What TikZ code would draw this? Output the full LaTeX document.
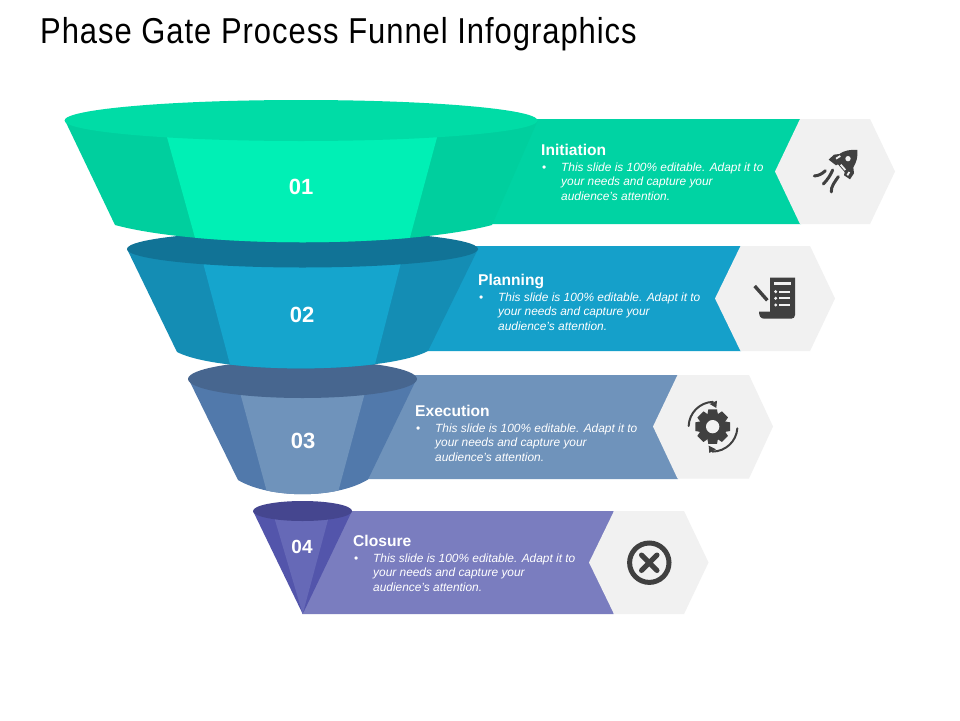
\documentclass[tikz,border=0pt]{standalone}
\usepackage{fontspec}
\setmainfont{Liberation Sans}
\newfontfamily\titlefont[FakeStretch=0.86,LetterSpace=2.7]{Liberation Sans}
\definecolor{lidA}{HTML}{00DCA6}\definecolor{sideA}{HTML}{00CF9E}\definecolor{panelA}{HTML}{00F0B5}\definecolor{bandA}{HTML}{00D3A3}
\definecolor{lidB}{HTML}{117396}\definecolor{sideB}{HTML}{148DB4}\definecolor{panelB}{HTML}{15A5CD}\definecolor{bandB}{HTML}{15A0CA}
\definecolor{lidC}{HTML}{47668F}\definecolor{sideC}{HTML}{5179AB}\definecolor{panelC}{HTML}{6F93BB}\definecolor{bandC}{HTML}{6F93BB}
\definecolor{lidD}{HTML}{45468F}\definecolor{sideD}{HTML}{5355AB}\definecolor{panelD}{HTML}{6669B7}\definecolor{bandD}{HTML}{7A7DBF}
\definecolor{hexfill}{HTML}{F1F1F1}\definecolor{icon}{HTML}{404040}
\tikzset{
  number/.style={text=white,font=\bfseries\fontsize{22}{24}\selectfont,inner sep=0pt},
  headline/.style={text=white,font=\bfseries\fontsize{15.6}{17}\selectfont,inner sep=0pt,anchor=base west},
  bodytext/.style={text=white,font=\itshape\fontsize{11.9}{14.5}\selectfont,inner sep=0pt,anchor=base west,align=left},
  bulletmark/.style={text=white,font=\fontsize{11.9}{14.5}\selectfont,inner sep=0pt,anchor=base west},
  iconline/.style={draw=icon,line cap=round,line join=round}
}
\newcommand{\bandlabel}[4]{%
  \node[headline] (title#1) at (#2,#3) {#4};
  \node[bulletmark] (bullet#1) at (#2+1,#3+16) {•};
  \node[bodytext] (body#1) at (#2+20,#3+16+29) {This slide is 100\% editable. Adapt it to\\your needs and capture your\\audience's attention.};
}
\begin{document}
\begin{tikzpicture}[x=1pt,y=-1pt]
\useasboundingbox (0,0) rectangle (960,720);
\fill[white] (0,0) rectangle (960,720);
\node[inner sep=0pt,anchor=base west,text=black,font=\titlefont\fontsize{36}{40}\selectfont] (maintitle) at (40,43) {Phase Gate Process Funnel Infographics};

% ---- funnel 4
\fill[bandD] (340,511) -- (613.5,511) -- (613.5,614) -- (302.7,614) -- cycle;
\fill[hexfill] (614,511) -- (684,511) -- (708.5,562.5) -- (684,614) -- (614,614) -- (589,562.5) -- cycle;
\fill[sideD] (253,511) -- (302.7,614) -- (352,511) -- cycle;
\fill[panelD] (273.5,515) -- (302.7,614) -- (329.3,515) -- cycle;
\fill[lidD] (302.5,511) ellipse [x radius=49.5,y radius=10];

% ---- funnel 3
\fill[bandC] (400,375) -- (678,375) -- (678,479) -- (360,479) -- cycle;
\fill[hexfill] (677.5,375) -- (749,375) -- (773,426.5) -- (749,478.5) -- (677.5,478.5) -- (653,426.5) -- cycle;
\fill[sideC] (188,378) -- (238,480) .. controls (270,499) and (336,499) .. (368,479.5) -- (417,378) -- cycle;
\begin{scope}
\clip (188,378) -- (238,480) .. controls (270,499) and (336,499) .. (368,479.5) -- (417,378) -- cycle;
\fill[panelC] (238,385) -- (268,496) -- (337,496) -- (367,385) -- cycle;
\end{scope}
\fill[lidC] (302.5,379) ellipse [x radius=114.5,y radius=19];

% ---- funnel 2
\fill[bandB] (460,246) -- (741,246) -- (741,351) -- (420,351) -- cycle;
\fill[hexfill] (740.5,246) -- (810,246) -- (835,298.5) -- (810,351) -- (740.5,351) -- (715,298.5) -- cycle;
\fill[sideB] (127,249) -- (177,352) .. controls (220,374) and (385,374) .. (428,351) -- (478,249) -- cycle;
\begin{scope}
\clip (127,249) -- (177,352) .. controls (220,374) and (385,374) .. (428,351) -- (478,249) -- cycle;
\fill[panelB] (201,255) -- (232,372) -- (373,372) -- (403,255) -- cycle;
\end{scope}
\fill[lidB] (302.5,249) ellipse [x radius=175.5,y radius=18.5];

% ---- funnel 1
\fill[bandA] (510,119) -- (801,119) -- (801,224) -- (480,224) -- cycle;
\fill[hexfill] (800,119) -- (870,119) -- (895,171.5) -- (870,224) -- (800,224) -- (775,171.5) -- cycle;
\fill[sideA] (65,120.5) -- (115,225) .. controls (200,248) and (405,248) .. (492,225) -- (537.5,121) -- cycle;
\begin{scope}
\clip (65,120.5) -- (115,225) .. controls (200,248) and (405,248) .. (492,225) -- (537.5,121) -- cycle;
\fill[panelA] (165,130) -- (197,245) -- (408,245) -- (439,130) -- cycle;
\end{scope}
\fill[lidA] (301,120.5) ellipse [x radius=236.5,y radius=20.5];

% ---- numbers
\node[number] (n1) at (301,187) {01};
\node[number] (n2) at (302,315) {02};
\node[number] (n3) at (303,441) {03};
\node[number,font=\bfseries\fontsize{19}{21}\selectfont] (n4) at (302,547) {04};

% ---- labels
\bandlabel{A}{541}{155}{Initiation}
\bandlabel{B}{478}{285}{Planning}
\bandlabel{C}{415}{416}{Execution}
\bandlabel{D}{353}{546}{Closure}

% ---- rocket icon
\begin{scope}[shift={(770,110)},x=0.3333pt,y=-0.3333pt]
\fill[icon] (262,120) .. controls (240,118) and (222,122) .. (208,132)
  -- (192,134) -- (176,149) -- (198,166) -- (204,163)
  -- (224,186) -- (222,196) -- (240,208) -- (252,190) -- (250,172)
  .. controls (260,155) and (264,140) .. (262,120) -- cycle;
\fill[hexfill] (234,146) circle [radius=8];
\draw[hexfill,line width=1.8pt] (198,146) -- (211,138);
\draw[hexfill,line width=1.8pt] (212,164) -- (226,180);
\draw[hexfill,line width=1.8pt] (232,196) -- (238,186);
\draw[iconline,line width=3pt] (133,198) .. controls (148,197) and (158,190) .. (166,182);
\draw[iconline,line width=3pt] (160,222) .. controls (172,210) and (182,195) .. (188,180);
\draw[iconline,line width=3pt] (184,246) .. controls (182,230) and (195,215) .. (205,200);
\end{scope}

% ---- document icon
\begin{scope}[shift={(710,240)},x=0.3333pt,y=-0.3333pt]
\fill[icon] (180,113) -- (255,113) -- (255,225) .. controls (255,232) and (250,236) .. (244,236)
  -- (162,236) .. controls (152,236) and (147,228) .. (147,215) -- (180,215) -- cycle;
\fill[hexfill] (192,126) rectangle (243,136);
\foreach \yy in {155,175,195}{
  \fill[hexfill] (197,\yy) circle [radius=5];
  \fill[hexfill] (208,\yy-3) rectangle (241,\yy+3);
}
\draw[iconline,line width=3.4pt,line cap=butt] (134,138) -- (172,181);
\end{scope}

% ---- gear icon
\begin{scope}[shift={(650,370)},x=0.3333pt,y=-0.3333pt]
\foreach \aa in {0,45,...,315}{
  \fill[icon,rotate around={\aa:(188,170)}] (175,118) -- (201,118) -- (206,145) -- (170,145) -- cycle;
}
\fill[icon] (188,170) circle [radius=39];
\fill[hexfill] (188,170) circle [radius=20];
\draw[icon,line width=2pt,line cap=round] (262,175) arc [start angle=4,end angle=90,radius=75];
\fill[icon] (179,102) -- (201,92) -- (199,114) -- cycle;
\draw[icon,line width=2pt,line cap=round] (116,168) arc [start angle=182,end angle=268,radius=75];
\fill[icon] (198,238) -- (176,227) -- (178,249) -- cycle;
\end{scope}

% ---- cross icon
\draw[icon,line width=5pt] (649.3,562.7) circle [radius=19.7];
\draw[iconline,line width=5pt] (641.5,555) -- (657,570.5);
\draw[iconline,line width=5pt] (657,555) -- (641.5,570.5);
\end{tikzpicture}
\end{document}
